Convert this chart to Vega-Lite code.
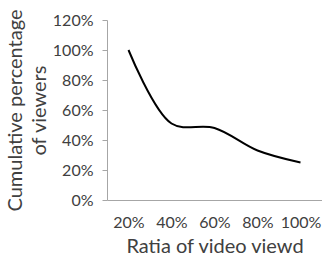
{
  "$schema": "https://vega.github.io/schema/vega-lite/v6.json",
  "autosize": "none",
  "width": 215,
  "height": 180,
  "padding": {"left": 107, "top": 20, "right": 0, "bottom": 57},
  "background": "white",
  "data": {"values": [
    {"ratio": "20%", "pct": 1.00},
    {"ratio": "40%", "pct": 0.51},
    {"ratio": "60%", "pct": 0.48},
    {"ratio": "80%", "pct": 0.33},
    {"ratio": "100%", "pct": 0.25}
  ]},
  "config": {
    "view": {"stroke": null},
    "font": "Lato",
    "axis": {"grid": false, "domainColor": "#a6a6a6", "tickColor": "#a6a6a6", "labelColor": "#404040", "titleColor": "#404040", "labelFont": "Lato", "titleFont": "Lato", "titleFontWeight": "normal"}
  },
  "mark": {"type": "line", "color": "black", "strokeWidth": 2, "interpolate": "catmull-rom"},
  "encoding": {
    "x": {"field": "ratio", "type": "ordinal", "sort": null,
      "scale": {"paddingInner": 0, "paddingOuter": 0.5},
      "axis": {"labelAngle": 0, "ticks": false, "labelFontSize": 16, "labelPadding": 14, "title": "Ratia of video viewd", "titleFontSize": 20, "titlePadding": 6}},
    "y": {"field": "pct", "type": "quantitative",
      "scale": {"domain": [0, 1.2], "nice": false},
      "axis": {"values": [0, 0.2, 0.4, 0.6, 0.8, 1.0, 1.2], "format": ".0%", "tickSize": 5, "labelFontSize": 16, "labelPadding": 9, "title": ["Cumulative percentage", "of viewers"], "titleFontSize": 20, "titlePadding": 3, "titleLineHeight": 24}}
  }
}
